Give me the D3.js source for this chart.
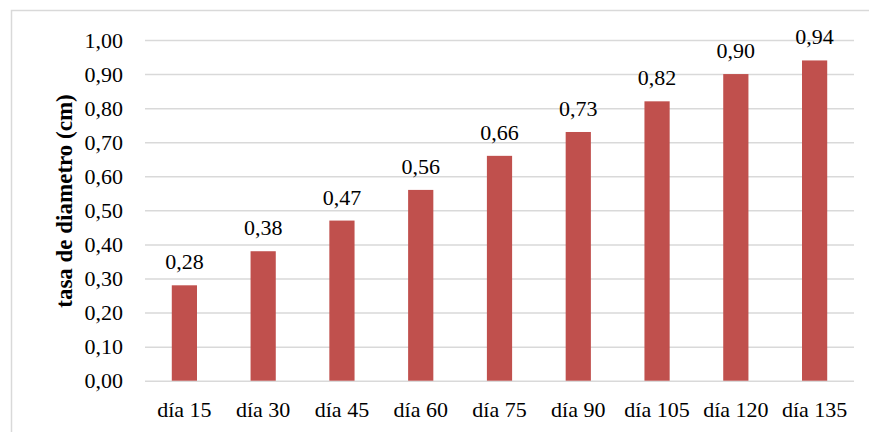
<!DOCTYPE html>
<html><head><meta charset="utf-8">
<script src="https://cdn.jsdelivr.net/npm/d3@7"></script>
<style>body{margin:0;background:#fff;font-family:"Liberation Serif",serif}svg{display:block}</style>
</head><body>
<svg id="c" width="869" height="432" font-family="Liberation Serif"></svg>
<script>
const categories = ["día 15","día 30","día 45","día 60","día 75","día 90","día 105","día 120","día 135"];
const values = [0.28,0.38,0.47,0.56,0.66,0.73,0.82,0.90,0.94];
const yTicks = [0,0.1,0.2,0.3,0.4,0.5,0.6,0.7,0.8,0.9,1.0];
const yTitle = "tasa de diametro (cm)";

(function(){
const svg = d3.select("#c");
const FF = "Liberation Serif";
const fmt = v => d3.format(".2f")(v).replace(".", ",");

svg.append("rect").attr("x",11.5).attr("y",10.5).attr("width",880).attr("height",440)
  .attr("fill","#fff").attr("stroke","#d9d9d9").attr("stroke-width",1.5);

const mL = 145, mR = 854, mT = 40, mB = 380.7;
const x = d3.scaleBand().domain(categories).range([mL,mR]).paddingInner(0.68).paddingOuter(0.34);
const y = d3.scaleLinear().domain([0,1]).range([mB,mT]);

const yAxis = svg.append("g").attr("transform",`translate(${mL},0)`)
  .call(d3.axisLeft(y).tickValues(yTicks).tickFormat(fmt).tickSize(-(mR-mL)).tickPadding(22));
yAxis.attr("font-family",FF).attr("font-size",22);
yAxis.select(".domain").remove();
yAxis.selectAll(".tick line").attr("stroke","#d9d9d9").attr("stroke-width",1.5);
yAxis.selectAll(".tick text").attr("font-family",FF).attr("font-size",22).attr("fill","#000");

const xAxis = svg.append("g").attr("transform",`translate(0,${mB})`)
  .call(d3.axisBottom(x).tickSize(0).tickPadding(20.5));
xAxis.attr("font-family",FF).attr("font-size",22);
xAxis.select(".domain").remove();
xAxis.selectAll(".tick text").attr("font-family",FF).attr("font-size",22).attr("fill","#000");

svg.append("g").selectAll("rect").data(values).join("rect")
  .attr("x",(d,i)=>x(categories[i])).attr("width",x.bandwidth())
  .attr("y",d=>y(d)).attr("height",d=>mB-y(d)).attr("fill","#C0504D");

svg.append("g").selectAll("text").data(values).join("text")
  .attr("x",(d,i)=>x(categories[i])+x.bandwidth()/2).attr("y",d=>y(d)-16)
  .attr("text-anchor","middle").attr("font-family",FF).attr("font-size",22).attr("fill","#000")
  .text(fmt);

svg.append("text").attr("transform",`translate(72,201) rotate(-90)`)
  .attr("text-anchor","middle").attr("font-family",FF).attr("font-size",23).attr("font-weight","bold")
  .attr("fill","#000").text(yTitle);
})();
</script>
</body></html>
